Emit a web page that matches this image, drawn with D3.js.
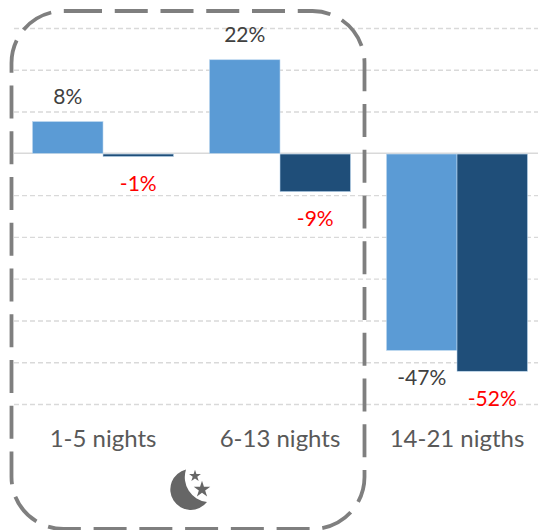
<!DOCTYPE html>
<html><head><meta charset="utf-8">
<script src="https://cdn.jsdelivr.net/npm/d3@7"></script>
<style>html,body{margin:0;padding:0;background:#fff}svg{display:block}text{font-family:Lato,sans-serif}</style>
</head><body><svg id="c" width="538" height="530"></svg>
<script>
const categories = ["1-5 nights","6-13 nights","14-21 nigths"];
const seriesKeys = ["a","b"];
const seriesA = [7.6,22.4,-47];
const seriesB = [-0.6,-9,-52];
const labelsA = ["8%","22%","-47%"];
const labelsB = ["-1%","-9%","-52%"];
const gridTicks = [30,20,10,-10,-20,-30,-40,-50,-60];
const colors = {a:"#5b9bd5",b:"#1f4e79"};
const labelColors = {a:"#404040",b:"#ff0000"};

const svg = d3.select("#c");
const y = d3.scaleLinear().domain([-60,30]).range([404,28]);
const x0 = d3.scaleBand().domain(categories).range([14.5,545.5]);
const x1 = d3.scaleBand().domain(seriesKeys).range([0,x0.bandwidth()]).paddingOuter(0.255).paddingInner(0);

// gridlines
const gridAxis = d3.axisLeft(y).tickValues(gridTicks).tickSize(-524).tickFormat("");
const g = svg.append("g").attr("transform","translate(14,0)").call(gridAxis);
g.select(".domain").remove();
g.selectAll(".tick line").attr("stroke","#d9d9d9").attr("stroke-width",1.4).attr("stroke-dasharray","5,3");

const rows = categories.map((c,i)=>[
  {c,k:"a",v:seriesA[i],l:labelsA[i]},
  {c,k:"b",v:seriesB[i],l:labelsB[i]}]).flat();

// zero line
svg.append("line").attr("x1",14).attr("x2",538).attr("y1",y(0)).attr("y2",y(0))
  .attr("stroke","#d9d9d9").attr("stroke-width",1.5);

svg.selectAll("rect.bar").data(rows).join("rect").attr("class","bar")
  .attr("x",d=>x0(d.c)+x1(d.k))
  .attr("width",x1.bandwidth())
  .attr("y",d=>d.v>=0?y(d.v):y(0)+0.7)
  .attr("height",d=>Math.abs(y(d.v)-y(0)))
  .attr("fill",d=>colors[d.k])
  .attr("stroke","#bdd7ee").attr("stroke-width",0.6);

svg.selectAll("text.val").data(rows).join("text").attr("class","val")
  .attr("x",d=>x0(d.c)+x1(d.k)+x1.bandwidth()/2)
  .attr("y",d=>d.v>=0?y(d.v)-18:y(d.v)+35.5)
  .attr("text-anchor","middle").attr("font-size",21)
  .attr("fill",d=>labelColors[d.k]).text(d=>d.l);

// category labels
const xAxis = d3.axisBottom(x0).tickSize(0).tickPadding(0);
const ax = svg.append("g").attr("transform","translate(0,447)").call(xAxis);
ax.select(".domain").remove();
ax.selectAll("text").attr("dy",0).attr("y",0).attr("font-size",24).attr("font-family","Lato,sans-serif").attr("fill","#595959");

// dashed callout
const L=11.5,T=11,R=364.5,B=529,r=52;
svg.append("path").attr("fill","none").attr("stroke","#7f7f7f").attr("stroke-width",3.8)
  .attr("stroke-dasharray","33,12.75")
  .attr("d",(()=>{const p=d3.path();
    p.moveTo(69,T);p.lineTo(R-r,T);p.arcTo(R,T,R,T+r,r);p.lineTo(R,B-r);p.arcTo(R,B,R-r,B,r);
    p.lineTo(L+r,B);p.arcTo(L,B,L,B-r,r);p.lineTo(L,T+r);p.arcTo(L,T,L+r,T,r);p.closePath();return p.toString();})());

// moon icon
const icon = svg.append("g").attr("fill","#666666");
icon.append("path").attr("d","M186 469.5 A20.5 20.5 0 1 0 207 502 A25 25 0 0 1 186 469.5 Z");
const star = d3.symbol().type(d3.symbolStar);
icon.append("path").attr("transform","translate(195,476)").attr("d",star.size(44)());
icon.append("path").attr("transform","translate(202,489.5)").attr("d",star.size(85)());
</script></body></html>
